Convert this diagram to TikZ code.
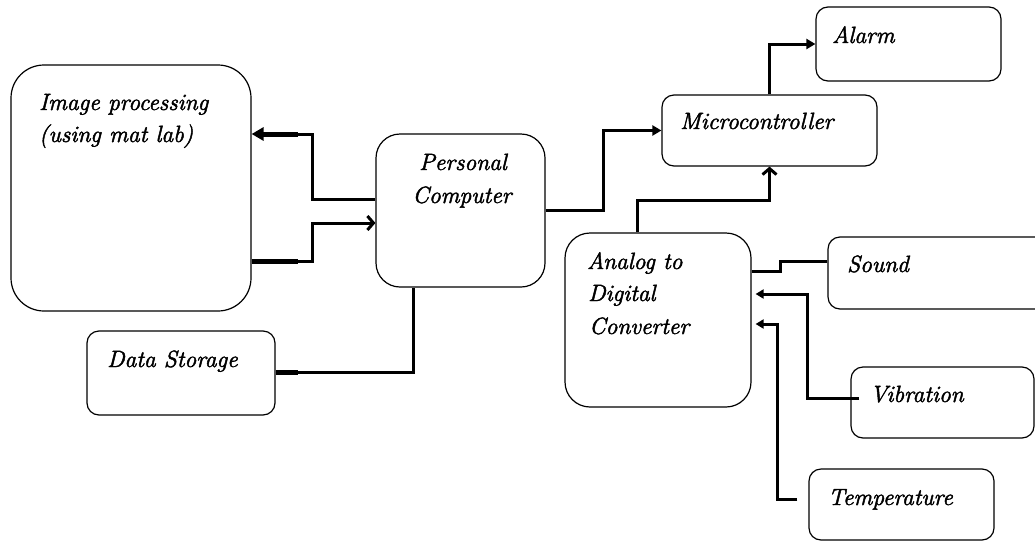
\documentclass[tikz,border=0pt]{standalone}
\usepackage{fontspec}
\newfontfamily\lblfont[FakeBold=2]{Latin Modern Roman}
\usetikzlibrary{arrows.meta}
\begin{document}
\begin{tikzpicture}[x=1pt,y=-1pt,
 box/.style={draw=black,line width=1.2pt,inner sep=0pt,rounded corners=12pt},
 lbl/.style={anchor=base west,inner sep=0pt,font=\lblfont\fontsize{23.5}{30}\selectfont\itshape},
 clbl/.style={lbl,anchor=base},
 conn/.style={line width=3pt},
 thk/.style={line width=5pt},
 tip/.style={-{Triangle[length=9pt,width=10pt]}},
 tipsm/.style={-{Triangle[length=8pt,width=9pt]},shorten >=4pt},
 barb/.style={-{Straight Barb[length=6pt,width=14pt]}}
]
\useasboundingbox (0,0) rectangle (1035,541);
% boxes
\node[box,rounded corners=33pt,minimum width=240pt,minimum height=246pt] (img) at (131,188) {};
\node[box,rounded corners=24pt,minimum width=169pt,minimum height=153pt] (pc) at (460.5,210.5) {};
\node[box,minimum width=188pt,minimum height=84pt] (ds) at (181,373) {};
\node[box,minimum width=215pt,minimum height=71pt] (mc) at (769.5,130.5) {};
\node[box,minimum width=185pt,minimum height=74pt] (alarm) at (908.5,44) {};
\node[box,rounded corners=25pt,minimum width=186pt,minimum height=174pt] (adc) at (658,320) {};
\node[box,minimum width=242pt,minimum height=72pt] (sound) at (949,273) {};
\node[box,minimum width=183pt,minimum height=71pt] (vib) at (942.5,402.5) {};
\node[box,minimum width=185pt,minimum height=71pt] (temp) at (901.5,504.5) {};
% texts
\node[lbl] (timg1) at (39,110) {Image processing};
\node[lbl] (timg2) at (39,142) {(using mat lab)};
\node[clbl] (tpc1) at (463,170) {Personal};
\node[clbl] (tpc2) at (462,203) {Computer};
\node[lbl] (tds) at (107,367) {Data Storage};
\node[lbl] (tmc) at (680,129) {Microcontroller};
\node[lbl] (talarm) at (832,43) {Alarm};
\node[lbl] (tadc1) at (587,269) {Analog to};
\node[lbl] (tadc2) at (588,301) {Digital};
\node[lbl] (tadc3) at (589,334) {Converter};
\node[lbl] (tsound) at (847,272) {Sound};
\node[lbl] (tvib) at (870,402) {Vibration};
\node[lbl] (ttemp) at (828,505) {Temperature};
% connectors
\draw[conn] (pc.west |- 0,199) -| (312,134) -- (298,134);
\draw[thk,-{Triangle[length=12pt,width=13pt]}] (298,134) -- (img.east |- 0,134);
\draw[thk] (img.east |- 0,261) -- (298,261);
\draw[conn,barb] (298,261) -| (312,223) -- (pc.west |- 0,223);
\draw[thk] (ds.east |- 0,372) -- (298,372);
\draw[conn] (298,372) -| (pc.south -| 413,0);
\draw[conn,tip] (pc.east) -- (pc.east -| 603,0) |- (mc.west);
\draw[conn,tip] (mc.north) |- (alarm.west);
\draw[conn,barb] (adc.north -| 637,0) |- (mc.south |- 0,200) -- (mc.south);
\draw[conn] (sound.west |- 0,261) -| (780,271) -- (adc.east |- 0,271);
\draw[conn,tipsm] (vib.west |- 0,398) ++(9,0) -| (807,294) -- (adc.east |- 0,294);
\draw[conn,tipsm] (temp.west |- 0,499) ++(-11,0) -| (777,324) -- (adc.east |- 0,324);
\end{tikzpicture}
\end{document}
